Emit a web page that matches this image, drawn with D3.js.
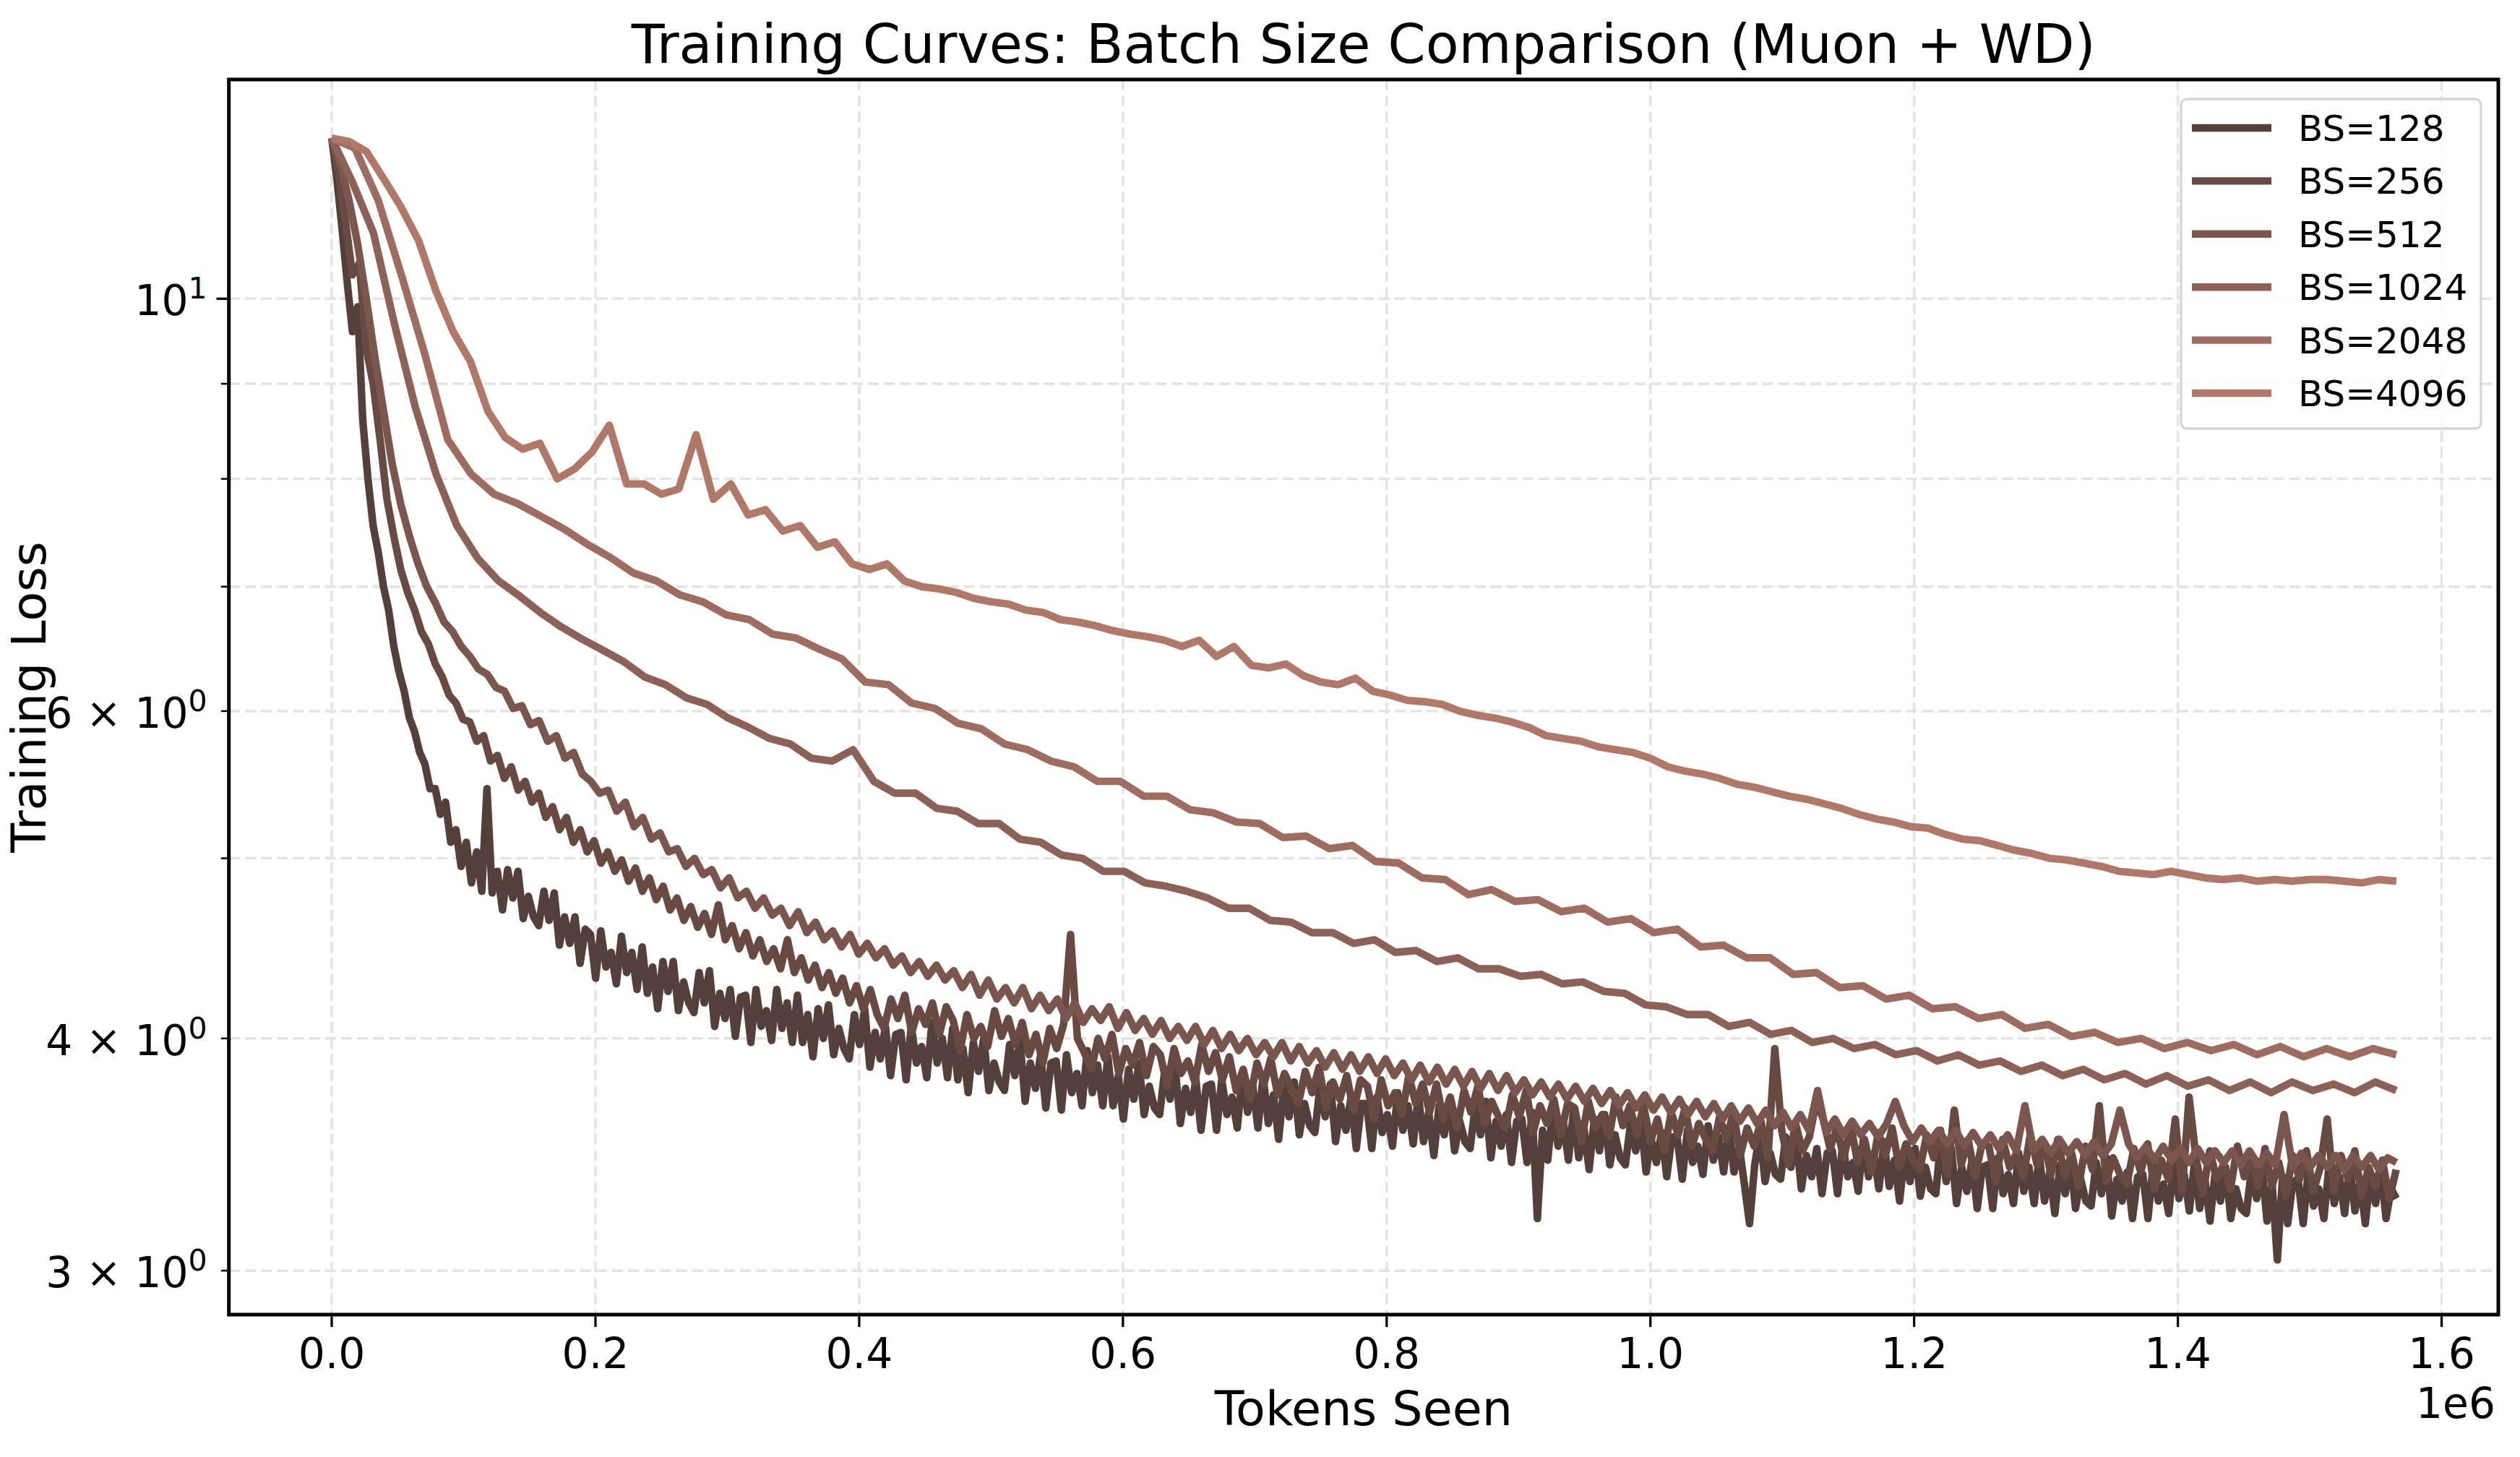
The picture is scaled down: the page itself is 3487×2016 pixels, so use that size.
<!DOCTYPE html>
<html>
<head>
<meta charset="utf-8">
<script src="https://cdn.jsdelivr.net/npm/d3@7"></script>
<style>
  html, body { margin: 0; padding: 0; background: #fff; }
  svg { display: block; font-family: "DejaVu Sans", sans-serif; }
</style>
</head>
<body>
<div id="chart"></div>
<script>
// === data ===
const batchSizes = [128, 256, 512, 1024, 2048, 4096];
// tokens between two logged points, per batch size
const logEvery = [3924, 5236, 6551, 15814, 17591, 13157];

const loss128 = [
  12.2, 11.6, 10.9, 10.2, 9.6, 9.9, 8.6, 8.0, 7.55, 7.3,
  7.0, 6.8, 6.5, 6.3, 6.15, 5.95, 5.85, 5.7, 5.62, 5.45,
  5.45, 5.28, 5.36, 5.1, 5.18, 4.95, 5.1, 4.85, 5.04, 4.8,
  5.45, 4.79, 4.92, 4.69, 4.93, 4.76, 4.92, 4.64, 4.77, 4.65,
  4.6, 4.8, 4.63, 4.79, 4.49, 4.65, 4.5, 4.65, 4.39, 4.58,
  4.55, 4.31, 4.57, 4.37, 4.45, 4.28, 4.54, 4.34, 4.45, 4.25,
  4.48, 4.23, 4.37, 4.15, 4.4, 4.24, 4.4, 4.14, 4.29, 4.18,
  4.13, 4.34, 4.18, 4.35, 4.06, 4.23, 4.1, 4.25, 4.01, 4.21,
  4.22, 3.98, 4.25, 4.06, 4.14, 3.99, 4.25, 4.05, 4.18, 3.98,
  4.22, 3.98, 4.12, 3.91, 4.15, 4.0, 4.17, 3.92, 4.05, 3.95,
  3.9, 4.12, 3.97, 4.15, 3.86, 4.03, 3.9, 4.06, 3.82, 4.02,
  4.03, 3.8, 4.06, 3.88, 3.96, 3.81, 4.08, 3.88, 4.0, 3.81,
  4.05, 3.8, 3.95, 3.74, 3.98, 3.84, 4.0, 3.75, 3.88, 3.79,
  3.75, 3.97, 3.82, 3.99, 3.7, 3.88, 3.76, 3.92, 3.67, 3.88,
  3.89, 3.66, 3.92, 3.74, 3.83, 3.68, 3.94, 3.74, 3.87, 3.68,
  3.91, 3.68, 3.82, 3.62, 3.85, 3.71, 3.88, 3.64, 3.77, 3.67,
  3.64, 3.85, 3.71, 3.86, 3.6, 3.76, 3.65, 3.8, 3.57, 3.77,
  3.78, 3.57, 3.8, 3.64, 3.72, 3.58, 3.83, 3.65, 3.77, 3.58,
  3.82, 3.6, 3.73, 3.53, 3.77, 3.63, 3.79, 3.55, 3.69, 3.59,
  3.56, 3.77, 3.63, 3.78, 3.52, 3.68, 3.57, 3.72, 3.49, 3.69,
  3.69, 3.49, 3.72, 3.56, 3.64, 3.5, 3.74, 3.57, 3.68, 3.51,
  3.73, 3.52, 3.65, 3.46, 3.68, 3.55, 3.71, 3.48, 3.61, 3.52,
  3.49, 3.68, 3.55, 3.7, 3.45, 3.61, 3.5, 3.64, 3.43, 3.61,
  3.62, 3.43, 3.65, 3.2, 3.57, 3.44, 3.67, 3.5, 3.61, 3.44,
  3.66, 3.45, 3.58, 3.4, 3.62, 3.48, 3.64, 3.42, 3.55, 3.45,
  3.42, 3.6, 3.48, 3.62, 3.39, 3.53, 3.43, 3.56, 3.37, 3.54,
  3.54, 3.36, 3.57, 3.43, 3.5, 3.38, 3.59, 3.44, 3.54, 3.39,
  3.58, 3.39, 3.5, 3.34, 3.18, 3.42, 3.56, 3.35, 3.47, 3.38,
  3.36, 3.54, 3.41, 3.55, 3.32, 3.46, 3.37, 3.49, 3.3, 3.47,
  3.48, 3.3, 3.51, 3.37, 3.43, 3.31, 3.53, 3.37, 3.47, 3.32,
  3.52, 3.33, 3.44, 3.27, 3.47, 3.35, 3.49, 3.29, 3.41, 3.32,
  3.3, 3.54, 3.35, 3.49, 3.26, 3.41, 3.31, 3.44, 3.24, 3.41,
  3.42, 3.24, 3.45, 3.3, 3.38, 3.26, 3.47, 3.31, 3.41, 3.26,
  3.46, 3.27, 3.39, 3.22, 3.42, 3.3, 3.44, 3.24, 3.36, 3.27,
  3.25, 3.43, 3.3, 3.45, 3.21, 3.36, 3.27, 3.39, 3.2, 3.37,
  3.38, 3.2, 3.42, 3.27, 3.34, 3.22, 3.43, 3.28, 3.38, 3.23,
  3.43, 3.24, 3.36, 3.19, 3.39, 3.27, 3.41, 3.2, 3.32, 3.24,
  3.22, 3.4, 3.28, 3.42, 3.19, 3.34, 3.04, 3.37, 3.18, 3.35,
  3.36, 3.18, 3.4, 3.25, 3.32, 3.2, 3.42, 3.26, 3.37, 3.22,
  3.42, 3.23, 3.35, 3.18, 3.38, 3.26, 3.41, 3.2, 3.32, 3.28
];
const loss256 = [
  12.2, 11.7, 11.0, 10.3, 10.45, 9.4, 9.0, 8.4, 7.8, 7.45,
  7.15, 6.95, 6.8, 6.62, 6.52, 6.36, 6.26, 6.12, 6.06, 5.94,
  5.92, 5.78, 5.82, 5.64, 5.68, 5.52, 5.6, 5.44, 5.5, 5.36,
  5.42, 5.26, 5.33, 5.18, 5.26, 5.1, 5.18, 5.04, 5.11, 4.97,
  5.04, 4.92, 4.99, 4.86, 4.94, 4.8, 4.88, 4.75, 4.83, 4.69,
  4.76, 4.63, 4.71, 4.59, 4.67, 4.55, 4.72, 4.52, 4.6, 4.47,
  4.56, 4.43, 4.52, 4.4, 4.47, 4.36, 4.52, 4.34, 4.42, 4.3,
  4.38, 4.26, 4.34, 4.23, 4.31, 4.18, 4.27, 4.15, 4.25, 4.12,
  4.05, 4.2, 4.1, 4.22, 4.03, 4.15, 4.07, 4.18, 4.02, 4.16,
  4.09, 3.94, 4.12, 4.0, 4.06, 3.96, 4.14, 4.01, 4.1, 3.97,
  4.08, 3.92, 4.02, 3.88, 4.05, 3.95, 4.07, 4.55, 4.0, 3.93,
  3.85, 4.0, 3.9, 4.02, 3.83, 3.95, 3.87, 3.98, 3.82, 3.96,
  3.92, 3.77, 3.95, 3.83, 3.89, 3.79, 3.97, 3.84, 3.93, 3.8,
  3.91, 3.75, 3.85, 3.71, 3.88, 3.78, 3.9, 3.73, 3.83, 3.76,
  3.69, 3.84, 3.74, 3.86, 3.67, 3.79, 3.71, 3.82, 3.66, 3.8,
  3.77, 3.62, 3.8, 3.68, 3.74, 3.64, 3.82, 3.69, 3.78, 3.65,
  3.78, 3.62, 3.72, 3.58, 3.75, 3.65, 3.77, 3.6, 3.7, 3.63,
  3.58, 3.73, 3.63, 3.75, 3.56, 3.68, 3.6, 3.71, 3.55, 3.69,
  3.67, 3.52, 3.7, 3.58, 3.64, 3.54, 3.72, 3.59, 3.68, 3.55,
  3.68, 3.52, 3.62, 3.48, 3.65, 3.55, 3.67, 3.5, 3.6, 3.53,
  3.48, 3.63, 3.53, 3.65, 3.46, 3.58, 3.5, 3.61, 3.45, 3.95,
  3.57, 3.42, 3.6, 3.48, 3.54, 3.7, 3.62, 3.49, 3.58, 3.45,
  3.59, 3.43, 3.53, 3.39, 3.56, 3.46, 3.58, 3.41, 3.51, 3.44,
  3.4, 3.55, 3.45, 3.57, 3.38, 3.66, 3.42, 3.53, 3.37, 3.51,
  3.5, 3.35, 3.53, 3.41, 3.47, 3.37, 3.55, 3.42, 3.51, 3.38,
  3.53, 3.37, 3.47, 3.33, 3.5, 3.4, 3.68, 3.35, 3.45, 3.38,
  3.34, 3.49, 3.39, 3.51, 3.32, 3.44, 3.36, 3.62, 3.31, 3.72,
  3.45, 3.3, 3.48, 3.36, 3.42, 3.32, 3.5, 3.37, 3.46, 3.33,
  3.49, 3.33, 3.43, 3.29, 3.46, 3.36, 3.48, 3.31, 3.41, 3.62,
  3.31, 3.46, 3.36, 3.48, 3.29, 3.41, 3.33, 3.44, 3.28, 3.4
];
const loss512 = [
  12.2, 11.8, 11.3, 10.7, 10.0, 9.3, 8.7, 8.15, 7.75, 7.45,
  7.2, 7.0, 6.86, 6.7, 6.62, 6.5, 6.42, 6.32, 6.28, 6.18,
  6.15, 6.02, 6.04, 5.9, 5.93, 5.78, 5.82, 5.66, 5.7, 5.55,
  5.5, 5.42, 5.44, 5.3, 5.36, 5.2, 5.26, 5.12, 5.16, 5.04,
  5.06, 4.95, 5.0, 4.9, 4.93, 4.82, 4.88, 4.76, 4.8, 4.7,
  4.76, 4.66, 4.7, 4.6, 4.68, 4.56, 4.62, 4.52, 4.57, 4.48,
  4.55, 4.44, 4.5, 4.42, 4.47, 4.38, 4.43, 4.34, 4.4, 4.32,
  4.38, 4.3, 4.35, 4.26, 4.33, 4.22, 4.3, 4.2, 4.26, 4.18,
  4.26, 4.15, 4.22, 4.14, 4.2, 4.1, 4.18, 4.08, 4.15, 4.09,
  4.16, 4.05, 4.13, 4.04, 4.1, 4.02, 4.09, 4.0, 4.06, 3.99,
  4.06, 3.97, 4.04, 3.95, 4.02, 3.94, 4.0, 3.92, 3.98, 3.91,
  3.98, 3.89, 3.96, 3.88, 3.94, 3.86, 3.93, 3.85, 3.92, 3.84,
  3.91, 3.83, 3.9, 3.82, 3.88, 3.8, 3.87, 3.79, 3.86, 3.78,
  3.85, 3.77, 3.84, 3.76, 3.83, 3.75, 3.82, 3.74, 3.8, 3.73,
  3.79, 3.72, 3.78, 3.71, 3.77, 3.7, 3.76, 3.69, 3.75, 3.68,
  3.74, 3.67, 3.73, 3.66, 3.72, 3.65, 3.71, 3.64, 3.7, 3.63,
  3.69, 3.62, 3.68, 3.61, 3.67, 3.6, 3.66, 3.59, 3.65, 3.58,
  3.64, 3.57, 3.75, 3.56, 3.62, 3.55, 3.61, 3.55, 3.6, 3.54,
  3.6, 3.7, 3.59, 3.52, 3.58, 3.52, 3.57, 3.51, 3.57, 3.5,
  3.56, 3.5, 3.55, 3.49, 3.55, 3.48, 3.68, 3.48, 3.53, 3.47,
  3.53, 3.47, 3.52, 3.46, 3.52, 3.46, 3.51, 3.66, 3.51, 3.45,
  3.5, 3.44, 3.5, 3.44, 3.49, 3.43, 3.49, 3.43, 3.48, 3.43,
  3.48, 3.42, 3.48, 3.42, 3.47, 3.42, 3.64, 3.41, 3.47, 3.41,
  3.46, 3.41, 3.46, 3.4, 3.46, 3.41, 3.46, 3.4, 3.45, 3.43
];
const loss1024 = [
  12.2, 11.55, 10.85, 9.7, 8.75, 8.05, 7.55, 7.25, 7.05, 6.92,
  6.78, 6.66, 6.56, 6.47, 6.38, 6.26, 6.2, 6.1, 6.05, 5.95,
  5.88, 5.8, 5.76, 5.66, 5.64, 5.72, 5.5, 5.42, 5.42, 5.32,
  5.3, 5.22, 5.22, 5.12, 5.1, 5.02, 5.0, 4.92, 4.92, 4.85,
  4.83, 4.8, 4.76, 4.7, 4.7, 4.63, 4.62, 4.56, 4.56, 4.5,
  4.52, 4.45, 4.46, 4.4, 4.42, 4.36, 4.36, 4.32, 4.33, 4.28,
  4.29, 4.24, 4.23, 4.17, 4.16, 4.12, 4.12, 4.06, 4.08, 4.02,
  4.04, 3.98, 4.0, 3.95, 3.97, 3.92, 3.94, 3.89, 3.92, 3.87,
  3.89, 3.84, 3.87, 3.82, 3.85, 3.8, 3.83, 3.78, 3.82, 3.77,
  3.8, 3.75, 3.79, 3.74, 3.79, 3.75, 3.78, 3.74, 3.79, 3.75
];
const loss2048 = [
  12.2, 12.05, 11.3, 10.3, 9.35, 8.4, 8.05, 7.85, 7.76, 7.64,
  7.52, 7.38, 7.26, 7.12, 7.05, 6.93, 6.87, 6.76, 6.72, 6.6,
  6.57, 6.48, 6.4, 6.22, 6.2, 6.06, 6.02, 5.91, 5.87, 5.76,
  5.72, 5.64, 5.6, 5.5, 5.5, 5.4, 5.4, 5.31, 5.29, 5.23,
  5.22, 5.13, 5.14, 5.06, 5.08, 4.98, 4.97, 4.88, 4.87, 4.78,
  4.81, 4.74, 4.75, 4.68, 4.7, 4.62, 4.64, 4.56, 4.58, 4.48,
  4.49, 4.42, 4.42, 4.33, 4.34, 4.26, 4.27, 4.2, 4.22, 4.15,
  4.16, 4.1, 4.12, 4.05, 4.07, 4.01, 4.03, 3.98, 4.0, 3.95,
  3.98, 3.94, 3.97, 3.92, 3.96, 3.91, 3.95, 3.91, 3.95, 3.92
];
const loss4096 = [
  12.2, 12.15, 12.0, 11.6, 11.2, 10.75, 10.1, 9.6, 9.25, 8.7,
  8.42, 8.3, 8.36, 8.0, 8.1, 8.27, 8.55, 7.95, 7.95, 7.85,
  7.9, 8.45, 7.8, 7.95, 7.65, 7.7, 7.5, 7.55, 7.35, 7.4,
  7.2, 7.15, 7.2, 7.05, 7.0, 6.98, 6.95, 6.9, 6.87, 6.85,
  6.8, 6.78, 6.72, 6.7, 6.67, 6.63, 6.6, 6.58, 6.55, 6.5,
  6.55, 6.42, 6.5, 6.35, 6.33, 6.36, 6.27, 6.22, 6.2, 6.25,
  6.15, 6.12, 6.08, 6.07, 6.05, 6.0, 5.97, 5.95, 5.92, 5.88,
  5.82, 5.8, 5.78, 5.74, 5.72, 5.7, 5.66, 5.6, 5.57, 5.55,
  5.52, 5.48, 5.46, 5.43, 5.4, 5.38, 5.35, 5.32, 5.28, 5.25,
  5.23, 5.2, 5.19, 5.15, 5.12, 5.11, 5.08, 5.05, 5.03, 5.0,
  4.99, 4.97, 4.95, 4.92, 4.91, 4.9, 4.92, 4.9, 4.88, 4.87,
  4.88, 4.86, 4.87, 4.86, 4.87, 4.87, 4.86, 4.85, 4.87, 4.86
];
const losses = [loss128, loss256, loss512, loss1024, loss2048, loss4096];

const xTicks = [0, 0.2e6, 0.4e6, 0.6e6, 0.8e6, 1.0e6, 1.2e6, 1.4e6, 1.6e6];
const xTickLabels = ["0.0", "0.2", "0.4", "0.6", "0.8", "1.0", "1.2", "1.4", "1.6"];
const yMajorTicks = [10];
const yMinorTicks = [3, 4, 5, 6, 7, 8, 9];
// [mantissa text, exponent] for the labelled y ticks
const yTickLabels = new Map([[10, ["10", "1"]], [6, ["6 \u00d7 10", "0"]], [4, ["4 \u00d7 10", "0"]], [3, ["3 \u00d7 10", "0"]]]);
const xLimits = [-78000, 1643000];
const yLimits = [2.841, 13.12];

// === styling ===
const lineColors = ["#553f3a", "#684a43", "#7a564e", "#8c6157", "#9e6c60", "#b07869"];
const W = 3487, H = 2016;
const plot = { left: 316.7, right: 3457, top: 110, bottom: 1819 };

const svg = d3.select("#chart").append("svg")
  .attr("width", W).attr("height", H)
  .attr("viewBox", [0, 0, W, H].join(" "));

svg.append("rect").attr("width", W).attr("height", H).attr("fill", "#fff");

const x = d3.scaleLinear().domain(xLimits).range([plot.left, plot.right]);
const y = d3.scaleLog().domain(yLimits).range([plot.bottom, plot.top]);

svg.append("clipPath").attr("id", "plot-clip")
  .append("rect")
  .attr("x", plot.left).attr("y", plot.top)
  .attr("width", plot.right - plot.left).attr("height", plot.bottom - plot.top);

// ---- grid (dashed, both major and minor on y) ----
const grid = svg.append("g").attr("stroke", "#e3e3e3").attr("stroke-width", 3.5)
  .attr("stroke-dasharray", "15.4 6.7");
grid.selectAll(".vgrid").data(xTicks).enter().append("line")
  .attr("x1", (d) => x(d)).attr("x2", (d) => x(d))
  .attr("y1", plot.top).attr("y2", plot.bottom);
grid.selectAll(".hgrid").data(yMajorTicks.concat(yMinorTicks)).enter().append("line")
  .attr("y1", (d) => y(d)).attr("y2", (d) => y(d))
  .attr("x1", plot.left).attr("x2", plot.right);

// ---- curves ----
const line = d3.line().x((d) => x(d[0])).y((d) => y(d[1]));
const curves = svg.append("g").attr("clip-path", "url(#plot-clip)");
batchSizes.forEach((bs, k) => {
  const pts = losses[k].map((v, i) => [i * logEvery[k], v]);
  curves.append("path")
    .datum(pts)
    .attr("d", line)
    .attr("fill", "none")
    .attr("stroke", lineColors[k])
    .attr("stroke-width", 10.4)
    .attr("stroke-linejoin", "round")
    .attr("stroke-linecap", "butt");
});

// ---- spines ----
svg.append("rect")
  .attr("x", plot.left).attr("y", plot.top)
  .attr("width", plot.right - plot.left).attr("height", plot.bottom - plot.top)
  .attr("fill", "none").attr("stroke", "#000").attr("stroke-width", 5);

// ---- x axis ----
const xAxis = svg.append("g").attr("transform", `translate(0,${plot.bottom + 2.5})`);
xAxis.selectAll("line").data(xTicks).enter().append("line")
  .attr("x1", (d) => x(d)).attr("x2", (d) => x(d))
  .attr("y1", 0).attr("y2", 14.6)
  .attr("stroke", "#000").attr("stroke-width", 3.3);
xAxis.selectAll("text").data(xTicks).enter().append("text")
  .attr("x", (d) => x(d)).attr("y", 1893 - plot.bottom - 2.5)
  .attr("text-anchor", "middle")
  .attr("font-size", 58.3)
  .text((d, i) => xTickLabels[i]);

// ---- y axis ----
const yAxis = svg.append("g").attr("transform", `translate(${plot.left - 2.5},0)`);
yAxis.selectAll(".major").data(yMajorTicks).enter().append("line")
  .attr("x1", -14.6).attr("x2", 0)
  .attr("y1", (d) => y(d)).attr("y2", (d) => y(d))
  .attr("stroke", "#000").attr("stroke-width", 3.3);
yAxis.selectAll(".minor").data(yMinorTicks).enter().append("line")
  .attr("x1", -8.3).attr("x2", 0)
  .attr("y1", (d) => y(d)).attr("y2", (d) => y(d))
  .attr("stroke", "#000").attr("stroke-width", 2.5);

const labelled = yMajorTicks.concat(yMinorTicks).filter((d) => yTickLabels.has(d));
labelled.forEach((d) => {
  const [base, exp] = yTickLabels.get(d);
  const t = yAxis.append("text")
    .attr("x", -27.6)
    .attr("y", y(d) + 23)
    .attr("text-anchor", "end")
    .attr("font-size", 58.3);
  t.append("tspan").text(base);
  t.append("tspan").attr("font-size", 41).attr("dy", -23).text(exp);
});

// ---- axis titles ----
svg.append("text")
  .attr("x", (plot.left + plot.right) / 2).attr("y", 1972)
  .attr("text-anchor", "middle").attr("font-size", 66.7)
  .text("Tokens Seen");

svg.append("text")
  .attr("transform", `translate(63,${(plot.top + plot.bottom) / 2}) rotate(-90)`)
  .attr("text-anchor", "middle").attr("font-size", 66.7)
  .text("Training Loss");

svg.append("text")
  .attr("x", plot.right - 4).attr("y", 1962)
  .attr("text-anchor", "end").attr("font-size", 58.3)
  .text("1e6");

svg.append("text")
  .attr("x", (plot.left + plot.right) / 2).attr("y", 87)
  .attr("text-anchor", "middle").attr("font-size", 75)
  .text("Training Curves: Batch Size Comparison (Muon + WD)");

// ---- legend ----
const legend = svg.append("g").attr("transform", "translate(3018,137)");
legend.append("rect")
  .attr("width", 415).attr("height", 456).attr("rx", 8)
  .attr("fill", "#fff").attr("fill-opacity", 0.8)
  .attr("stroke", "#d6d6d6").attr("stroke-width", 3.3);
const rowH = 73.4;
batchSizes.forEach((bs, k) => {
  const cy = 40 + k * rowH;
  legend.append("line")
    .attr("x1", 15).attr("x2", 125)
    .attr("y1", cy).attr("y2", cy)
    .attr("stroke", lineColors[k]).attr("stroke-width", 10.4);
  legend.append("text")
    .attr("x", 162).attr("y", cy + 18)
    .attr("font-size", 50)
    .text(`BS=${bs}`);
});
</script>
</body>
</html>
